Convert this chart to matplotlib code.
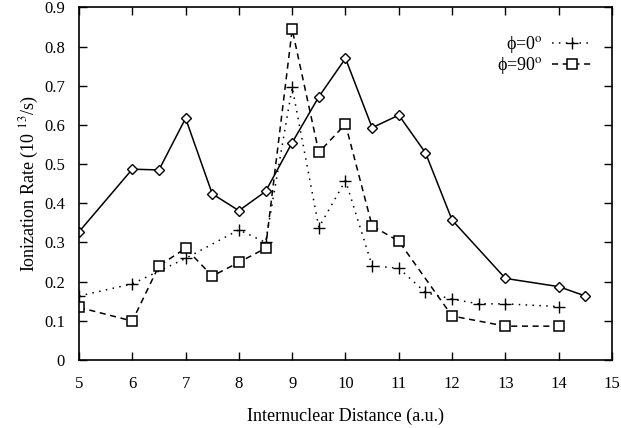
import matplotlib
matplotlib.use("Agg")
import matplotlib.pyplot as plt

plt.rcParams["font.family"] = ["Liberation Serif", "DejaVu Serif"]
plt.rcParams["mathtext.fontset"] = "stix"

# distance (a.u.) and ionization rate (10^13 /s)
x_diamond = [5, 6, 6.5, 7, 7.5, 8, 8.5, 9, 9.5, 10, 10.5, 11, 11.5, 12, 13, 14, 14.5]
y_diamond = [0.327, 0.487, 0.485, 0.617, 0.424, 0.381, 0.430, 0.555, 0.672, 0.770,
             0.593, 0.625, 0.529, 0.357, 0.208, 0.187, 0.163]

x_phi0 = [5, 6, 7, 8, 8.5, 9, 9.5, 10, 10.5, 11, 11.5, 12, 12.5, 13, 14]
y_phi0 = [0.163, 0.194, 0.259, 0.332, 0.300, 0.696, 0.338, 0.458, 0.240, 0.234,
          0.172, 0.155, 0.143, 0.143, 0.136]

x_phi90 = [5, 6, 6.5, 7, 7.5, 8, 8.5, 9, 9.5, 10, 10.5, 11, 12, 13, 14]
y_phi90 = [0.134, 0.099, 0.240, 0.285, 0.214, 0.249, 0.285, 0.844, 0.530, 0.602,
           0.342, 0.303, 0.112, 0.086, 0.086]

fig = plt.figure(figsize=(6.21, 4.28), dpi=100)
ax = fig.add_axes([0.1272, 0.1593, 0.8583, 0.8232])

ax.plot(x_diamond, y_diamond, color="black", lw=1.1, marker="D", ms=5.5,
        mfc="white", mec="black", mew=1.0)
ax.plot(x_phi0, y_phi0, color="black", lw=1.1, ls=(0, (1, 3.5)), marker="+",
        ms=9, mew=1.0, label="\u03d5=0$^{\\mathrm{o}}$")
ax.plot(x_phi90, y_phi90, color="black", lw=1.1, ls=(0, (4, 3)), marker="s",
        ms=7.5, mfc="white", mec="black", mew=1.1, label="\u03d5=90$^{\\mathrm{o}}$")

ax.set_xlim(5, 15)
ax.set_ylim(0, 0.9)
ax.set_xticks(range(5, 16))
ax.set_yticks([i / 10 for i in range(10)])
ax.set_yticklabels(["0"] + [f"{i / 10:.1f}" for i in range(1, 10)])
ax.tick_params(direction="in", length=6, width=1, top=True, right=True,
               labelsize=12, pad=10)
ax.tick_params(axis="x", pad=12)
for s in ax.spines.values():
    s.set_linewidth(1.2)

ax.set_xlabel("Internuclear Distance (a.u.)", fontsize=13, labelpad=11)
ax.set_ylabel(r"Ionization Rate (10 $^{13}$/s)", fontsize=13, labelpad=2)

ax.legend(loc="upper right", bbox_to_anchor=(0.9625, 0.925), frameon=False,
          markerfirst=False, handlelength=2.2, handletextpad=0.5,
          borderpad=0, borderaxespad=0, labelspacing=0.0, fontsize=13)

fig.savefig("out.png", dpi=100)
